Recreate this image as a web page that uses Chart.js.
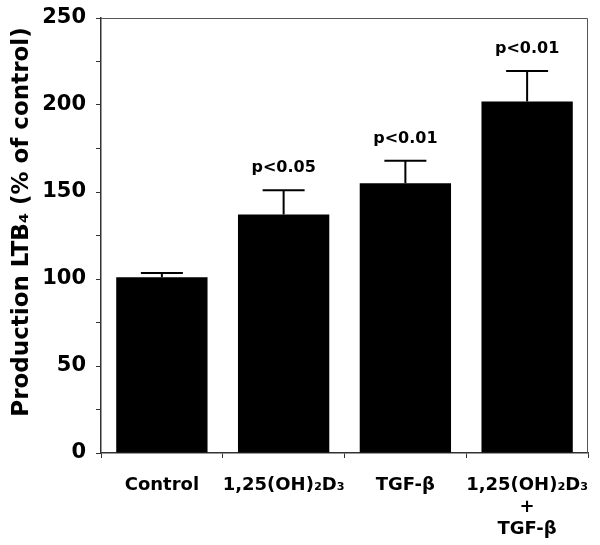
<!DOCTYPE html>
<html>
<head>
<meta charset="utf-8">
<script src="https://cdn.jsdelivr.net/npm/chart.js@4.4.1/dist/chart.umd.min.js"></script>
<style>
  html, body { margin: 0; padding: 0; background: #fff; }
  #wrap { width: 600px; height: 545px; }
</style>
</head>
<body>
<div id="wrap"><canvas id="ltbChart"></canvas></div>
<script>
// data
const groups = ['Control', '1,25(OH)₂D₃', 'TGF-β', ['1,25(OH)₂D₃', '+', 'TGF-β']];
const production = [101, 137, 155, 202];
const sem = [2.5, 14, 13, 17.5];
const pValues = ['', 'p<0.05', 'p<0.01', 'p<0.01'];
const yTicks = [0, 50, 100, 150, 200, 250];
const yTitle = 'Production LTB₄ (% of control)';

const FONT = "'DejaVu Sans', sans-serif";

// error bars (upper only) + p-value labels
const errorBarPlugin = {
  id: 'errorBars',
  afterDatasetsDraw(chart) {
    const ctx = chart.ctx;
    const meta = chart.getDatasetMeta(0);
    const y = chart.scales.y;
    ctx.save();
    ctx.strokeStyle = '#000';
    ctx.lineWidth = 2;
    meta.data.forEach((bar, i) => {
      const top = y.getPixelForValue(production[i] + sem[i]);
      ctx.beginPath();
      ctx.moveTo(bar.x, bar.y);
      ctx.lineTo(bar.x, top);
      ctx.moveTo(bar.x - 21, top);
      ctx.lineTo(bar.x + 21, top);
      ctx.stroke();
      if (pValues[i]) {
        ctx.fillStyle = '#000';
        ctx.font = 'bold 16px ' + FONT;
        ctx.textAlign = 'center';
        ctx.textBaseline = 'middle';
        ctx.fillText(pValues[i], bar.x, top - 22);
      }
    });
    ctx.restore();
  }
};

// thin frame on top and right of the plot area, plus the rotated y title
const framePlugin = {
  id: 'frame',
  afterDraw(chart) {
    const { ctx, chartArea: a } = chart;
    ctx.save();
    ctx.strokeStyle = '#555';
    ctx.lineWidth = 1;
    ctx.beginPath();
    ctx.moveTo(a.left, a.top + 0.5);
    ctx.lineTo(a.right - 0.5, a.top + 0.5);
    ctx.lineTo(a.right - 0.5, a.bottom);
    ctx.stroke();

    ctx.translate(22, 222);
    ctx.rotate(-Math.PI / 2);
    ctx.fillStyle = '#000';
    ctx.font = 'bold 23px ' + FONT;
    ctx.textAlign = 'center';
    ctx.textBaseline = 'middle';
    ctx.fillText(yTitle, 0, 0);
    ctx.restore();
  }
};

new Chart(document.getElementById('ltbChart'), {
  type: 'bar',
  data: {
    labels: groups,
    datasets: [{
      data: production,
      backgroundColor: '#000',
      borderWidth: 0,
      categoryPercentage: 1,
      barPercentage: 0.75
    }]
  },
  options: {
    responsive: true,
    maintainAspectRatio: false,
    animation: false,
    layout: { padding: { top: 18, right: 12, left: 0, bottom: 0 } },
    plugins: { legend: { display: false }, tooltip: { enabled: false } },
    scales: {
      x: {
        afterFit(scale) {
          scale.height = 92;
          scale.paddingLeft = 0;
          scale.paddingRight = 0;
        },
        grid: { display: true, drawOnChartArea: false, offset: true, tickLength: 5, color: '#333', lineWidth: 1 },
        border: { color: '#333', width: 1.5 },
        ticks: {
          color: '#000',
          padding: 17,
          maxRotation: 0,
          autoSkip: false,
          font: { family: FONT, size: 18, weight: 'bold', lineHeight: 1.2 }
        }
      },
      y: {
        min: 0,
        max: 250,
        afterFit(scale) {
          scale.width = 101;
          scale.paddingTop = 0;
          scale.paddingBottom = 0;
        },
        grid: { display: true, drawOnChartArea: false, tickLength: 5, color: '#333', lineWidth: 1 },
        border: { color: '#333', width: 1.5 },
        ticks: {
          stepSize: 25,
          color: '#000',
          padding: 10,
          font: { family: FONT, size: 21, weight: 'bold' },
          callback: v => (yTicks.includes(v) ? v : '')
        }
      }
    }
  },
  plugins: [errorBarPlugin, framePlugin]
});
</script>
</body>
</html>
